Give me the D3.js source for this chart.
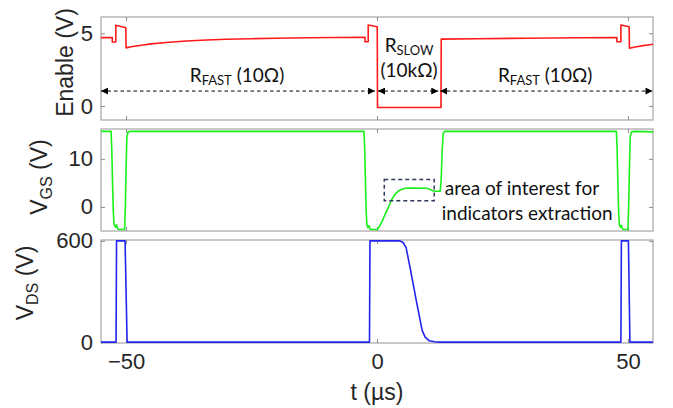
<!DOCTYPE html>
<html><head><meta charset="utf-8">
<script src="https://cdn.jsdelivr.net/npm/d3@7"></script>
<style>
html,body{margin:0;padding:0;background:#fff;}
svg{display:block;}
</style></head>
<body>
<script>
// ---------- DATA ----------
const xDomain = [-55, 55];
const xTicks = [-50, 0, 50];
const enableTicks = [0, 5];
const vgsTicks = [0, 10];
const vdsTicks = [0, 600];

// Enable (V) vs t (µs)
const enableData = [[-55,4.7],[-52.75,4.7],[-52.75,4.4],[-52.05,4.4],[-52.05,5.55],[-50.05,5.38],[-50.0,4.0],[-49,4.07],[-47,4.18],[-45,4.27],[-42,4.37],[-38,4.47],[-34,4.54],[-30,4.59],[-25,4.63],[-20,4.66],[-14,4.69],[-8,4.71],[-2.4,4.72],[-2.4,4.42],[-1.75,4.42],[-1.75,5.57],[0.05,5.45],[0.1,-0.1],[12.75,-0.1],[12.8,4.6],[20,4.63],[30,4.66],[40,4.69],[47.8,4.71],[47.8,4.42],[48.6,4.42],[48.6,5.57],[50.25,5.45],[50.3,3.97],[51,4.02],[52,4.09],[53,4.15],[54,4.2],[55,4.25]];

// VGS (V) vs t (µs)
const vgsData = [[-55,15.7],[-53.0,15.7],[-52.85,12],[-52.7,5],[-52.55,-1],[-52.4,-3.6],[-52.1,-4.2],[-51.9,-3.7],[-51.7,-4.5],[-51.4,-4.7],[-50.3,-4.7],[-50.15,0],[-50.0,8],[-49.85,14.5],[-49.6,15.6],[-49.2,15.7],
 [-2.6,15.7],[-2.45,12],[-2.3,5],[-2.15,-1],[-2.0,-3.8],[-1.8,-4.3],[-1.6,-3.9],[-1.4,-4.6],[-1.1,-4.7],[0,-4.7],[0.4,-4.2],[1.0,-3.0],[1.6,-1.6],[2.3,0],[2.9,1.5],[3.5,2.5],[4.25,3.3],[5.0,3.7],[5.6,3.9],[7,3.95],[9.9,3.9],[10.5,3.7],[11.0,3.4],[11.6,3.25],[12.6,3.25],[12.8,6],[13.0,12],[13.2,15.3],[13.5,15.7],
 [47.7,15.7],[47.85,12],[48.0,5],[48.15,-1],[48.3,-3.8],[48.5,-4.2],[48.7,-3.8],[48.9,-4.6],[49.2,-4.7],[50.0,-4.7],[50.15,0],[50.3,8],[50.45,14.5],[50.7,15.6],[51.5,15.7],[55,15.6]];

// VDS (V) vs t (µs)
const vdsData = [[-55,0],[-52.0,0],[-51.9,600],[-50.2,600],[-49.8,0],[-1.5,0],[-1.4,600],[4.5,600],[5.2,590],[5.8,560],[6.6,440],[7.9,235],[9.0,70],[9.6,30],[10.4,8],[11.5,2],[12.5,0],[48.6,0],[48.7,600],[50.1,600],[50.4,0],[55,0]];

// annotation content
const phaseSegments = [[-55,-0.4],[0.2,12.2],[12.6,54.9]];
const phaseLevel = 1.03;
const boxT = [1.45, 11.4];
const boxV = [1.3, 5.7];

// ---------- LAYOUT ----------
const W = 673, H = 408;
const svg = d3.select("body").append("svg").attr("width", W).attr("height", H);
const x = d3.scaleLinear().domain(xDomain).range([101, 653]);

const panels = [
  {data: enableData, ticks: enableTicks, dom: [-0.96, 6.12], top: 17, bot: 120, color: "#ff1a1a"},
  {data: vgsData, ticks: vgsTicks, dom: [-5, 16.2], top: 129, bot: 231, color: "#19f019"},
  {data: vdsData, ticks: vdsTicks, dom: [-5, 605], top: 240, bot: 343, color: "#2323f0"}
];

const tickFont = "'Liberation Sans', Arial, Helvetica, sans-serif";
const defs = svg.append("defs");
defs.append("marker").attr("id","arr").attr("viewBox","0 0 10 10").attr("refX",10).attr("refY",5)
  .attr("markerWidth",7.5).attr("markerHeight",7).attr("markerUnits","userSpaceOnUse")
  .attr("orient","auto-start-reverse")
  .append("path").attr("d","M0,0 L10,5 L0,10 Z").attr("fill","#000");

panels.forEach((p, i) => {
  p.y = d3.scaleLinear().domain(p.dom).range([p.bot, p.top]);
  const g = svg.append("g");
  defs.append("clipPath").attr("id","clip"+i).append("rect")
    .attr("x",101).attr("y",p.top-1).attr("width",552).attr("height",p.bot-p.top+2);
  g.append("rect").attr("x",101).attr("y",p.top).attr("width",552).attr("height",p.bot-p.top)
    .attr("fill","none").attr("stroke","#a6a6a6").attr("stroke-width",1.2);
  const yl = g.append("g").attr("transform","translate(101,0)")
    .call(d3.axisLeft(p.y).tickValues(p.ticks).tickSizeInner(-4).tickSizeOuter(0).tickPadding(8).tickFormat(d3.format("d")));
  const yr = g.append("g").attr("transform","translate(653,0)")
    .call(d3.axisRight(p.y).tickValues(p.ticks).tickSizeInner(-4).tickSizeOuter(0).tickFormat(""));
  const xt = g.append("g").attr("transform",`translate(0,${p.top})`)
    .call(d3.axisTop(x).tickValues(xTicks).tickSizeInner(-4).tickSizeOuter(0).tickFormat(""));
  const xb = g.append("g").attr("transform",`translate(0,${p.bot})`)
    .call(d3.axisBottom(x).tickValues(xTicks).tickSizeInner(-4).tickSizeOuter(0).tickPadding(10)
      .tickFormat(i === 2 ? d3.format("d") : ""));
  [yl,yr,xt,xb].forEach(a => {
    a.select(".domain").remove();
    a.selectAll(".tick line").attr("stroke","#8c8c8c");
    a.selectAll("text").attr("font-family",tickFont).attr("font-size",22).attr("fill","#262626");
  });
  g.append("path").datum(p.data).attr("clip-path",`url(#clip${i})`)
    .attr("fill","none").attr("stroke",p.color).attr("stroke-width",1.6).attr("stroke-linejoin","round")
    .attr("d", d3.line().x(d => x(d[0])).y(d => p.y(d[1])));
});

// ---------- AXIS LABELS ----------
const labFont = tickFont;
function rotLabel(xPos, yPos, main, sub, rest) {
  const t = svg.append("text").attr("transform",`translate(${xPos},${yPos}) rotate(-90)`)
    .attr("text-anchor","middle").attr("font-family",labFont).attr("font-size",23).attr("fill","#262626");
  t.append("tspan").text(main);
  if (sub) {
    t.append("tspan").attr("font-size",16).attr("dy",5).text(sub);
    t.append("tspan").attr("dy",-5).text(rest);
  }
}
rotLabel(73, 62.5, "Enable (V)");
rotLabel(47, 177, "V", "GS", " (V)");
rotLabel(33, 283, "V", "DS", " (V)");
svg.append("text").attr("x",377).attr("y",400).attr("text-anchor","middle")
  .attr("font-family",labFont).attr("font-size",23).attr("fill","#262626").text("t (µs)");

// ---------- ANNOTATIONS ----------
const p1 = panels[0], p2 = panels[1];
const annFont = "Lato, 'Open Sans', sans-serif";
phaseSegments.forEach(s => {
  svg.append("line").attr("x1",x(s[0])).attr("x2",x(s[1]))
    .attr("y1",p1.y(phaseLevel)).attr("y2",p1.y(phaseLevel))
    .attr("stroke","#000").attr("stroke-width",1).attr("stroke-dasharray","3.5,3")
    .attr("marker-start","url(#arr)").attr("marker-end","url(#arr)");
});
function rLabel(tc, v, sub, rest) {
  const t = svg.append("text").attr("x",x(tc)).attr("y",p1.y(v)).attr("text-anchor","middle")
    .attr("font-family",annFont).attr("font-size",19).attr("fill","#111");
  t.append("tspan").text("R");
  t.append("tspan").attr("font-size",13).attr("dy",3).text(sub);
  if (rest) t.append("tspan").attr("dy",-3).text(rest);
  return t;
}
rLabel(-27.9, 1.65, "FAST", " (10Ω)");
rLabel(33.5, 1.65, "FAST", " (10Ω)");
rLabel(6.4, 3.74, "SLOW");
svg.append("text").attr("x",x(6.4)).attr("y",p1.y(2.0)).attr("text-anchor","middle")
  .attr("font-family",annFont).attr("font-size",19).attr("fill","#111").text("(10kΩ)");

svg.append("rect").attr("x",x(boxT[0])).attr("y",p2.y(boxV[1]))
  .attr("width",x(boxT[1])-x(boxT[0])).attr("height",p2.y(boxV[0])-p2.y(boxV[1]))
  .attr("fill","none").attr("stroke","#2f3b5c").attr("stroke-width",1.5).attr("stroke-dasharray","4,3");
svg.append("text").attr("x",x(13.5)).attr("y",p2.y(2.56)).attr("font-family",annFont)
  .attr("font-size",19).attr("fill","#111").text("area of interest for");
svg.append("text").attr("x",x(12.9)).attr("y",p2.y(-2.65)).attr("font-family",annFont)
  .attr("font-size",19).attr("fill","#111").text("indicators extraction");
</script>
</body></html>
